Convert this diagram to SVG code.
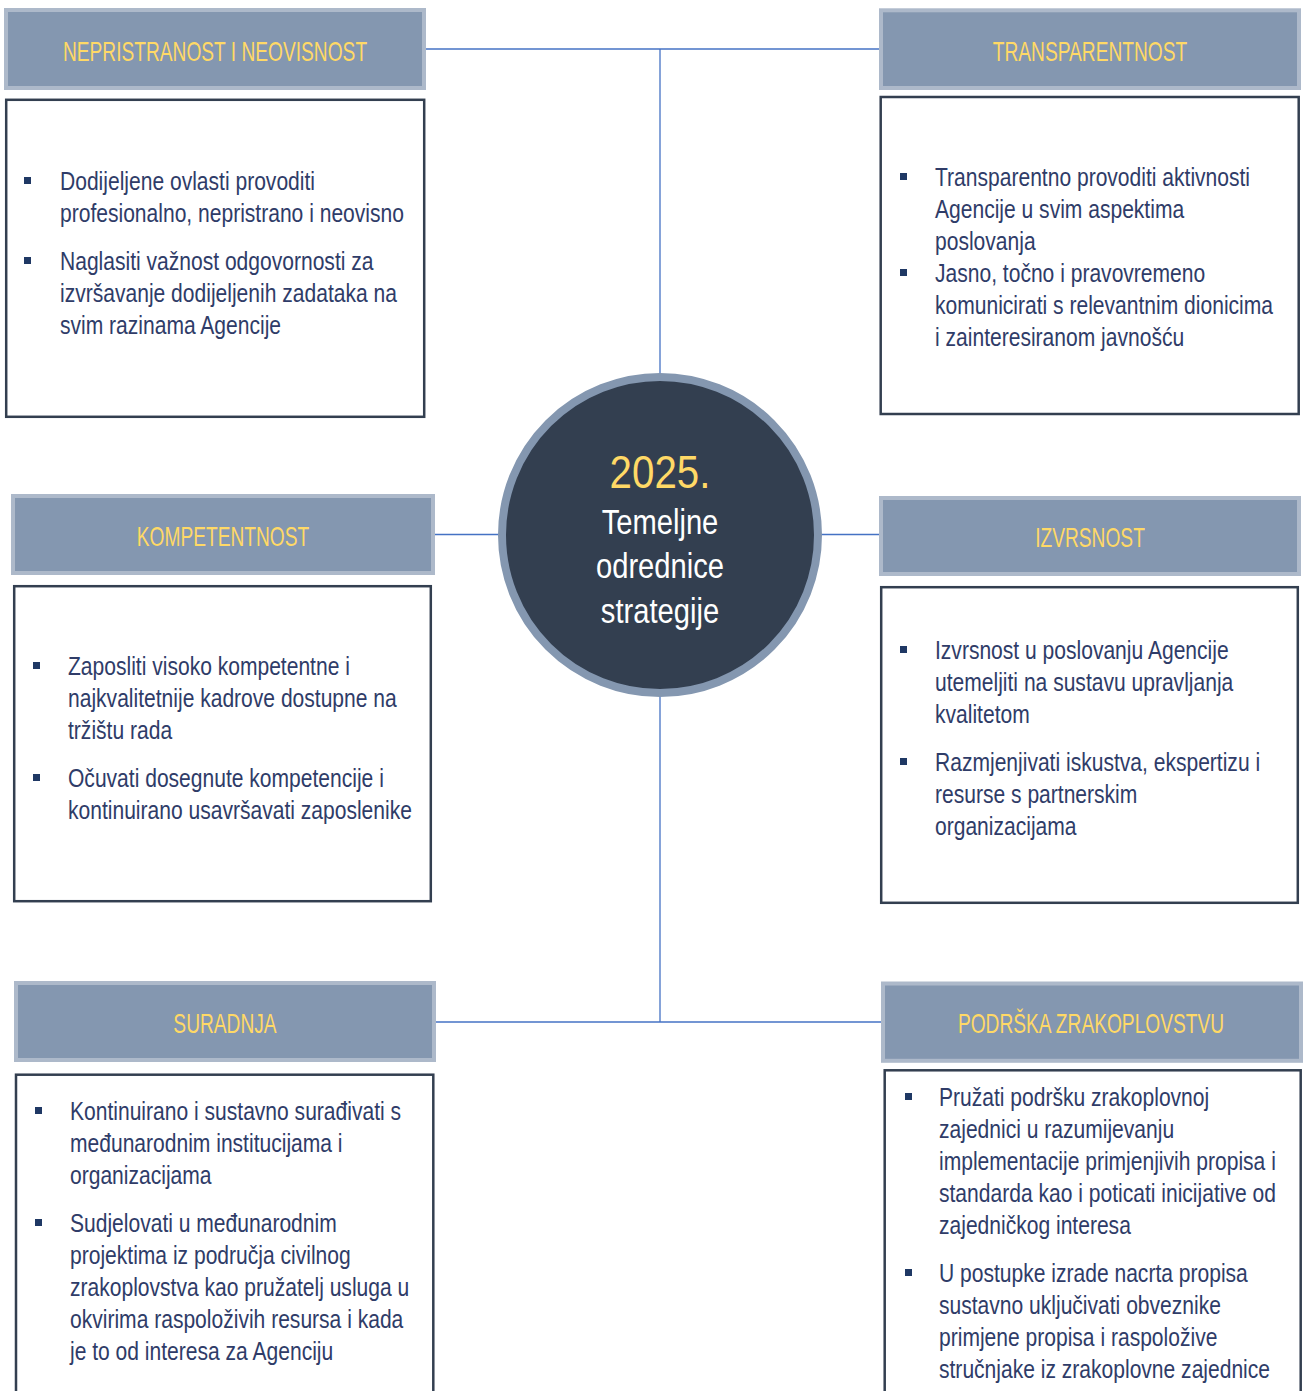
<svg xmlns="http://www.w3.org/2000/svg" width="1303" height="1391" viewBox="0 0 1303 1391">
<style>
.hdr{fill:#8497b0;stroke:#adb9ca;stroke-width:4}
.box{fill:#ffffff;stroke:#333f50;stroke-width:2.5}
.ht{font-family:"Liberation Sans",Arial,sans-serif;font-size:27px;fill:#ffd966;text-anchor:middle}
.bt{font-family:"Liberation Sans",Arial,sans-serif;font-size:26px;fill:#2f3c68}
.bul{fill:#1f3864}
.con{stroke:#4472c4;stroke-width:1.3;fill:none}
</style>
<rect width="1303" height="1391" fill="#ffffff"/>
<g id="connectors">
<line class="con" x1="660" y1="49" x2="660" y2="376"/>
<line class="con" x1="660" y1="694" x2="660" y2="1022"/>
<line class="con" x1="426" y1="49" x2="879" y2="49"/>
<line class="con" x1="435" y1="534.5" x2="502" y2="534.5"/>
<line class="con" x1="818" y1="534.5" x2="879" y2="534.5"/>
<line class="con" x1="436" y1="1022" x2="881" y2="1022"/>
</g>
<g id="center">
<circle cx="660" cy="535" r="158" fill="#333f50" stroke="#8497b0" stroke-width="8"/>
<g transform="translate(660,488) scale(0.885,1)"><text x="0" y="0" font-family="Liberation Sans,Arial,sans-serif" font-size="45.5" fill="#ffd966" text-anchor="middle">2025.</text></g>
<g transform="translate(660,0) scale(0.81,1)" font-family="Liberation Sans,Arial,sans-serif" font-size="36" fill="#ffffff" text-anchor="middle">
<text x="0" y="534">Temeljne</text>
<text x="0" y="578">odrednice</text>
<text x="0" y="623">strategije</text>
</g>
</g>
<g id="nepristranost">
<rect class="hdr" x="6" y="10" width="418" height="78"/>
<g transform="translate(215,61) scale(0.71,1)"><text class="ht" x="0" y="0">NEPRISTRANOST I NEOVISNOST</text></g>
<rect class="box" x="6.2" y="99.8" width="418" height="317"/>
<rect class="bul" x="24" y="177" width="7" height="7"/>
<rect class="bul" x="24" y="257" width="7" height="7"/>
<g transform="translate(60,0) scale(0.81,1)">
<text class="bt" x="0" y="190">Dodijeljene ovlasti provoditi</text>
<text class="bt" x="0" y="222">profesionalno, nepristrano i neovisno</text>
<text class="bt" x="0" y="270">Naglasiti važnost odgovornosti za</text>
<text class="bt" x="0" y="302">izvršavanje dodijeljenih zadataka na</text>
<text class="bt" x="0" y="334">svim razinama Agencije</text>
</g>
</g>
<g id="transparentnost">
<rect class="hdr" x="881" y="10.3" width="418" height="77.7"/>
<g transform="translate(1090,61) scale(0.71,1)"><text class="ht" x="0" y="0">TRANSPARENTNOST</text></g>
<rect class="box" x="880.7" y="97" width="418" height="317"/>
<rect class="bul" x="900" y="173" width="7" height="7"/>
<rect class="bul" x="900" y="269" width="7" height="7"/>
<g transform="translate(935,0) scale(0.81,1)">
<text class="bt" x="0" y="186">Transparentno provoditi aktivnosti</text>
<text class="bt" x="0" y="218">Agencije u svim aspektima</text>
<text class="bt" x="0" y="250">poslovanja</text>
<text class="bt" x="0" y="282">Jasno, točno i pravovremeno</text>
<text class="bt" x="0" y="314">komunicirati s relevantnim dionicima</text>
<text class="bt" x="0" y="346">i zainteresiranom javnošću</text>
</g>
</g>
<g id="kompetentnost">
<rect class="hdr" x="13" y="496" width="420" height="77"/>
<g transform="translate(223,546) scale(0.71,1)"><text class="ht" x="0" y="0">KOMPETENTNOST</text></g>
<rect class="box" x="14.2" y="586.2" width="416.6" height="315"/>
<rect class="bul" x="33" y="662" width="7" height="7"/>
<rect class="bul" x="33" y="774" width="7" height="7"/>
<g transform="translate(68,0) scale(0.81,1)">
<text class="bt" x="0" y="675">Zaposliti visoko kompetentne i</text>
<text class="bt" x="0" y="707">najkvalitetnije kadrove dostupne na</text>
<text class="bt" x="0" y="739">tržištu rada</text>
<text class="bt" x="0" y="787">Očuvati dosegnute kompetencije i</text>
<text class="bt" x="0" y="819">kontinuirano usavršavati zaposlenike</text>
</g>
</g>
<g id="izvrsnost">
<rect class="hdr" x="881" y="498" width="418" height="76"/>
<g transform="translate(1090,547) scale(0.71,1)"><text class="ht" x="0" y="0">IZVRSNOST</text></g>
<rect class="box" x="881.2" y="587.2" width="416.6" height="315.6"/>
<rect class="bul" x="900" y="646" width="7" height="7"/>
<rect class="bul" x="900" y="758" width="7" height="7"/>
<g transform="translate(935,0) scale(0.81,1)">
<text class="bt" x="0" y="659">Izvrsnost u poslovanju Agencije</text>
<text class="bt" x="0" y="691">utemeljiti na sustavu upravljanja</text>
<text class="bt" x="0" y="723">kvalitetom</text>
<text class="bt" x="0" y="771">Razmjenjivati iskustva, ekspertizu i</text>
<text class="bt" x="0" y="803">resurse s partnerskim</text>
<text class="bt" x="0" y="835">organizacijama</text>
</g>
</g>
<g id="suradnja">
<rect class="hdr" x="16" y="983" width="418" height="77"/>
<g transform="translate(225,1033) scale(0.71,1)"><text class="ht" x="0" y="0">SURADNJA</text></g>
<rect class="box" x="16" y="1074.7" width="417.3" height="330"/>
<rect class="bul" x="35" y="1107" width="7" height="7"/>
<rect class="bul" x="35" y="1219" width="7" height="7"/>
<g transform="translate(70,0) scale(0.81,1)">
<text class="bt" x="0" y="1120">Kontinuirano i sustavno surađivati s</text>
<text class="bt" x="0" y="1152">međunarodnim institucijama i</text>
<text class="bt" x="0" y="1184">organizacijama</text>
<text class="bt" x="0" y="1232">Sudjelovati u međunarodnim</text>
<text class="bt" x="0" y="1264">projektima iz područja civilnog</text>
<text class="bt" x="0" y="1296">zrakoplovstva kao pružatelj usluga u</text>
<text class="bt" x="0" y="1328">okvirima raspoloživih resursa i kada</text>
<text class="bt" x="0" y="1360">je to od interesa za Agenciju</text>
</g>
</g>
<g id="podrska">
<rect class="hdr" x="883" y="983.5" width="418" height="77.3"/>
<g transform="translate(1091,1033) scale(0.71,1)"><text class="ht" x="0" y="0">PODRŠKA ZRAKOPLOVSTVU</text></g>
<rect class="box" x="884.7" y="1070.3" width="416" height="330"/>
<rect class="bul" x="905" y="1093" width="7" height="7"/>
<rect class="bul" x="905" y="1269" width="7" height="7"/>
<g transform="translate(939,0) scale(0.81,1)">
<text class="bt" x="0" y="1106">Pružati podršku zrakoplovnoj</text>
<text class="bt" x="0" y="1138">zajednici u razumijevanju</text>
<text class="bt" x="0" y="1170">implementacije primjenjivih propisa i</text>
<text class="bt" x="0" y="1202">standarda kao i poticati inicijative od</text>
<text class="bt" x="0" y="1234">zajedničkog interesa</text>
<text class="bt" x="0" y="1282">U postupke izrade nacrta propisa</text>
<text class="bt" x="0" y="1314">sustavno uključivati obveznike</text>
<text class="bt" x="0" y="1346">primjene propisa i raspoložive</text>
<text class="bt" x="0" y="1378">stručnjake iz zrakoplovne zajednice</text>
</g>
</g>
</svg>
